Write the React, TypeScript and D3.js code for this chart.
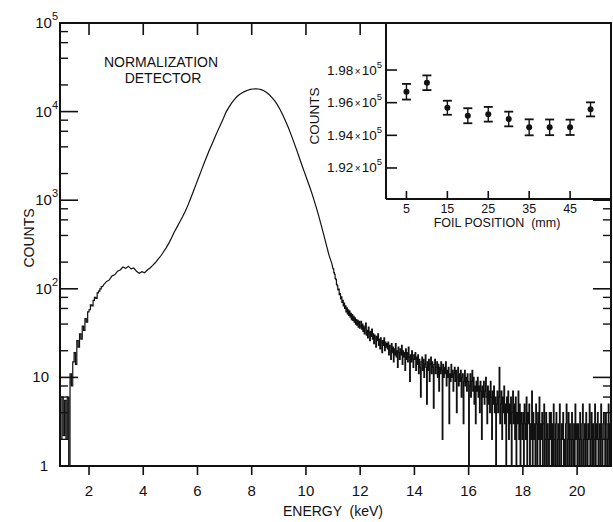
import React from "react";
import * as d3 from "d3";

const W = 613;
const H = 522;

// ---- Spectrum data (counts per channel) ----
const LOW_START = 0.95;
const LOW_STEP = 0.05;
const lowCounts = [
  2, 6, 2.2, 5.5, 2, 6, 1, 11, 8, 15, 19, 14, 26, 22, 31, 27, 38, 34, 46, 42,
  55, 58, 66, 64, 74, 80, 78, 90, 94, 100, 106,
];

const MID_START = 2.5;
const MID_STEP = 0.1;
const midCounts = [
  112, 121, 126, 140, 144, 158, 163, 176, 170, 180,
  168, 172, 158, 150, 156, 152, 163, 172, 184, 198,
  216, 236, 262, 292, 330, 380, 440, 500, 570, 650,
  750, 880, 1050, 1260, 1520, 1830, 2200, 2650, 3150, 3750,
  4400, 5200, 6100, 7100, 8300, 9800, 11100, 12400, 13600, 14700,
  15600, 16300, 16900, 17400, 17800, 18000, 18100, 18000, 17700, 17200,
  16400, 15500, 14400, 13200, 11900, 10500, 9100, 7800, 6600, 5500,
  4550, 3750, 3050, 2500, 2050, 1680, 1380, 1120, 890, 700,
  540, 415, 315, 240, 195,
];

const TAIL_START = 11.0;
const TAIL_STEP = 0.025;
const tailCounts = [
  168, 152, 146, 131, 127, 112, 108, 97, 99, 86, 88, 77, 81, 70, 74, 64, 69, 60, 64, 55,
  61, 52, 58, 50, 56, 48, 53, 45, 51, 44, 49, 42, 47, 40, 45, 39, 44, 37, 43, 36,
  38, 43, 35, 40, 33, 38, 31, 36, 41, 30, 34, 28, 37, 32, 26, 33, 29, 35, 27, 31,
  24, 30, 28, 22, 29, 26, 31, 23, 27, 21, 28, 25, 19, 26, 23, 28, 20, 25, 22, 24,
  21, 25, 18, 23, 20, 16, 24, 19, 22, 15, 21, 18, 24, 17, 20, 13, 22, 19, 16, 21,
  18, 23, 14, 20, 17, 19, 12, 21, 16, 19, 15, 22, 17, 9, 18, 15, 20, 16, 13, 18,
  16, 19, 12, 17, 14, 18, 11, 16, 13, 6, 15, 17, 12, 16, 10, 14, 18, 13, 5, 15,
  12, 16, 9, 14, 17, 11, 15, 13, 4.5, 14, 16, 11, 13, 15, 10, 14, 7, 13, 11, 15,
  12, 2, 14, 10, 13, 11, 15, 8, 12, 10, 13, 3, 11, 9, 14, 10, 12, 7, 11, 13,
  9, 12, 4, 10, 13, 8, 11, 9, 12, 6, 10, 11, 3, 9, 12, 8, 10, 7, 11, 9,
  1, 8, 11, 6, 9, 12, 7, 10, 5, 8, 3, 9, 7, 10, 6, 8, 4, 9, 7, 2,
  8, 6, 9, 5, 7, 10, 6, 3, 8, 5, 7, 4, 9, 6, 2, 7, 5, 8, 4, 6,
  1, 5, 7, 4, 6, 13, 3, 5, 7, 2, 6, 4, 8, 3, 5, 1, 6, 4, 7, 2,
  5, 3, 6, 1, 4, 7, 3, 5, 2, 6, 1, 4, 3, 7, 2, 5, 1, 4, 3, 2,
  4, 1, 5, 3, 2, 6, 1, 4, 3, 5, 1, 3, 2, 7, 1, 4, 2, 3, 1, 5,
  3, 1, 4, 2, 6, 1, 3, 2, 4, 1, 3, 5, 1, 2, 4, 1, 3, 2, 1, 4,
  2, 4, 1, 3, 1, 5, 2, 1, 3, 4, 1, 2, 3, 1, 5, 2, 1, 3, 2, 4,
  1, 2, 1, 3, 5, 1, 2, 4, 1, 3, 2, 1, 4, 2, 1, 3, 1, 5, 2, 3,
  1, 3, 2, 1, 4, 2, 1, 3, 5, 1, 2, 3, 1, 4, 2, 1, 3, 2, 5, 1,
  2, 4, 1, 3, 1, 2, 5, 1, 3, 2, 4, 1, 2, 3, 1, 5, 2, 1, 3, 4,
  2, 1, 4, 3, 1, 2, 5, 1, 3, 2,
];

// ---- Main axes ----
const xTicks = [2, 4, 6, 8, 10, 12, 14, 16, 18, 20];
const yDecades = [1, 10, 100, 1000, 10000, 100000];
const yMinorMultipliers = [2, 4, 6, 8];

// ---- Inset data ----
const foilPositions = [5, 10, 15, 20, 25, 30, 35, 40, 45, 50];
const foilCounts = [196670, 197220, 195690, 195200, 195290, 195000, 194490, 194490, 194490, 195590];
const foilErrors = [480, 450, 430, 460, 450, 450, 490, 480, 470, 430];
const insetYTicks = [192000, 194000, 196000, 198000];
const insetYTickLabels = ["1.92", "1.94", "1.96", "1.98"];
const insetXTicks = [5, 15, 25, 35, 45];

const FONT = "'Liberation Sans', Arial, Helvetica, sans-serif";

export default function App() {
  const left = 60, right = 611, top = 23, bottom = 466;
  const x = d3.scaleLinear().domain([0.93, 21.25]).range([left, right]);
  const y = d3.scaleLog().domain([1, 1e5]).range([bottom, top]).clamp(true);

  const insetLeft = 386, insetBottom = 199;
  const ix = d3.scaleLinear().domain([0, 55]).range([insetLeft, right]);
  const iy = d3.scaleLinear().domain([190100, 200880]).range([insetBottom, top]);

  // histogram vertices for the noisy parts, channel centres for the smooth peak
  const pts: [number, number][] = [];
  lowCounts.forEach((c, i) => {
    pts.push([LOW_START + i * LOW_STEP, c]);
    pts.push([LOW_START + (i + 1) * LOW_STEP, c]);
  });
  midCounts.forEach((c, i) => pts.push([MID_START + (i + 0.5) * MID_STEP, c]));
  tailCounts.forEach((c, i) => {
    pts.push([TAIL_START + i * TAIL_STEP, c]);
    pts.push([TAIL_START + (i + 1) * TAIL_STEP, c]);
  });

  const line = d3
    .line<[number, number]>()
    .x((d) => x(d[0]))
    .y((d) => y(Math.max(1, d[1])));
  const path = line(pts) || "";

  const minors: number[] = [];
  yDecades.slice(0, -1).forEach((d) => yMinorMultipliers.forEach((m) => minors.push(d * m)));

  const stroke = "#111";

  return (
    <svg
      width={W}
      height={H}
      viewBox={`0 0 ${W} ${H}`}
      style={{ position: "absolute", left: 0, top: 0, background: "#fff" }}
      fontFamily={FONT}
    >
      <rect x={0} y={0} width={W} height={H} fill="#fff" />
      <defs>
        <clipPath id="plotClip">
          <rect x={left} y={top} width={right - left} height={bottom - top} />
        </clipPath>
      </defs>

      {/* spectrum */}
      <path d={path} fill="none" stroke={stroke} strokeWidth={1.2} clipPath="url(#plotClip)" />

      {/* frame */}
      <rect x={left} y={top} width={right - left} height={bottom - top} fill="none" stroke={stroke} strokeWidth={2} />

      {/* bottom ticks (outward) + labels */}
      {xTicks.map((t) => (
        <g key={"xb" + t}>
          <line x1={x(t)} x2={x(t)} y1={bottom} y2={bottom + 9} stroke={stroke} strokeWidth={1.6} />
          <text x={x(t)} y={496} textAnchor="middle" fontSize={15} fill={stroke}>
            {t}
          </text>
        </g>
      ))}
      {/* top ticks (inward), left of inset */}
      {xTicks
        .filter((t) => x(t) < insetLeft - 2)
        .map((t) => (
          <line key={"xt" + t} x1={x(t)} x2={x(t)} y1={top} y2={top + 12} stroke={stroke} strokeWidth={1.6} />
        ))}

      {/* left major/minor ticks */}
      {yDecades.map((d) => (
        <line key={"yl" + d} x1={left} x2={left + 18} y1={y(d)} y2={y(d)} stroke={stroke} strokeWidth={1.6} />
      ))}
      {minors.map((m) => (
        <line key={"ylm" + m} x1={left} x2={left + 8} y1={y(m)} y2={y(m)} stroke={stroke} strokeWidth={1.4} />
      ))}
      {/* right ticks below inset */}
      {yDecades
        .filter((d) => y(d) > insetBottom - 1)
        .map((d) => (
          <line key={"yr" + d} x1={right - 18} x2={right} y1={y(d)} y2={y(d)} stroke={stroke} strokeWidth={1.6} />
        ))}
      {minors
        .filter((m) => y(m) > insetBottom + 2)
        .map((m) => (
          <line key={"yrm" + m} x1={right - 8} x2={right} y1={y(m)} y2={y(m)} stroke={stroke} strokeWidth={1.4} />
        ))}

      {/* y labels */}
      {yDecades.map((d) => {
        const p = Math.round(Math.log10(d));
        const ty = y(d) + 5;
        if (p === 0)
          return (
            <text key={"yt" + d} x={48} y={ty} textAnchor="end" fontSize={15} fill={stroke}>
              1
            </text>
          );
        if (p === 1)
          return (
            <text key={"yt" + d} x={49} y={ty} textAnchor="end" fontSize={15} fill={stroke}>
              10
            </text>
          );
        return (
          <text key={"yt" + d} x={58} y={ty} textAnchor="end" fontSize={15} fill={stroke}>
            10
            <tspan fontSize={11} dy={-8}>
              {p}
            </tspan>
          </text>
        );
      })}

      {/* axis titles */}
      <text x={333} y={516} textAnchor="middle" fontSize={14} fill={stroke} style={{ whiteSpace: "pre" }}>
        {"ENERGY  (keV)"}
      </text>
      <text
        transform={`translate(29,238) rotate(-90)`}
        textAnchor="middle"
        dominantBaseline="central"
        fontSize={14}
        fill={stroke}
      >
        COUNTS
      </text>
      <text x={161} y={67} textAnchor="middle" fontSize={14} fill={stroke}>
        NORMALIZATION
      </text>
      <text x={163} y={83} textAnchor="middle" fontSize={14} fill={stroke}>
        DETECTOR
      </text>

      {/* ---- inset ---- */}
      <rect x={insetLeft} y={top} width={right - insetLeft} height={insetBottom - top} fill="#fff" />
      <line x1={insetLeft} x2={insetLeft} y1={top} y2={insetBottom} stroke={stroke} strokeWidth={2} />
      <line x1={insetLeft} x2={right} y1={insetBottom} y2={insetBottom} stroke={stroke} strokeWidth={2} />
      <line x1={insetLeft} x2={right} y1={top} y2={top} stroke={stroke} strokeWidth={2} />
      <line x1={right} x2={right} y1={top} y2={insetBottom} stroke={stroke} strokeWidth={2} />

      {insetYTicks.map((t, i) => (
        <g key={"iy" + t}>
          <line x1={insetLeft} x2={insetLeft + 11} y1={iy(t)} y2={iy(t)} stroke={stroke} strokeWidth={1.6} />
          <text x={382} y={iy(t) + 4.5} textAnchor="end" fontSize={13.5} fill={stroke}>
            {insetYTickLabels[i]}
            <tspan fontSize={10} dx={1.5}>
              ×
            </tspan>
            <tspan dx={1}>10</tspan>
            <tspan fontSize={9.5} dy={-7}>
              5
            </tspan>
          </text>
        </g>
      ))}
      {insetXTicks.map((t) => (
        <g key={"ix" + t}>
          <line x1={ix(t)} x2={ix(t)} y1={insetBottom} y2={insetBottom - 8} stroke={stroke} strokeWidth={1.6} />
          <text x={ix(t)} y={213} textAnchor="middle" fontSize={12.5} fill={stroke}>
            {t}
          </text>
        </g>
      ))}
      <text x={497} y={227} textAnchor="middle" fontSize={12.5} fill={stroke} style={{ whiteSpace: "pre" }}>
        {"FOIL POSITION  (mm)"}
      </text>
      <text
        transform={`translate(314,116) rotate(-90)`}
        textAnchor="middle"
        dominantBaseline="central"
        fontSize={13.5}
        fill={stroke}
      >
        COUNTS
      </text>

      {foilPositions.map((p, i) => {
        const cx = ix(p);
        const v = foilCounts[i];
        const e = foilErrors[i];
        return (
          <g key={"fp" + p}>
            <line x1={cx} x2={cx} y1={iy(v - e)} y2={iy(v + e)} stroke={stroke} strokeWidth={1.4} />
            <line x1={cx - 4.5} x2={cx + 4.5} y1={iy(v - e)} y2={iy(v - e)} stroke={stroke} strokeWidth={1.8} />
            <line x1={cx - 4.5} x2={cx + 4.5} y1={iy(v + e)} y2={iy(v + e)} stroke={stroke} strokeWidth={1.8} />
            <circle cx={cx} cy={iy(v)} r={3} fill={stroke} />
          </g>
        );
      })}
    </svg>
  );
}
